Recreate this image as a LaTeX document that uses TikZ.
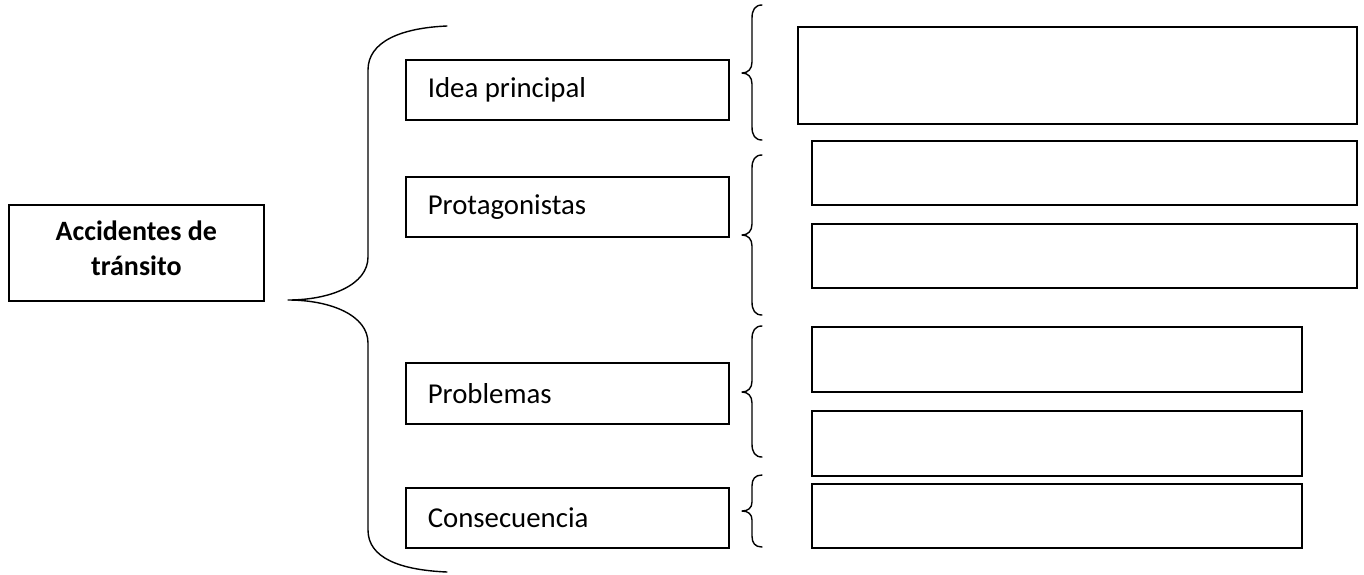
\documentclass[tikz,border=0pt]{standalone}
\usepackage{fontspec}
\setmainfont{Carlito}
\newcommand\lefttext[1]{\makebox[279pt][l]{#1}}
\begin{document}
\begin{tikzpicture}[x=1pt,y=-1pt,
  box/.style={draw=black,line width=1.6pt,rectangle,inner sep=0pt},
  lbl/.style={box,minimum height=60pt,minimum width=323pt,
    font=\fontsize{28.8}{34}\selectfont,anchor=north west},
  rbox/.style={box,anchor=north west},
  brc/.style={draw=black,line width=1.4pt,line cap=round,line join=round}]
\useasboundingbox (0,0) rectangle (1364,574);
\fill[white] (0,0) rectangle (1364,574);
% main box
\node[box,anchor=north west,minimum width=255pt,minimum height=96pt] (main) at (8,204) {};
\node[align=center,inner sep=0pt,font=\bfseries\fontsize{28}{35}\selectfont]
  (maintxt) at ([yshift=5pt]main.center) {Accidentes de\\tránsito};
% left labels
\node[lbl] (idea) at (405,59) {\lefttext{Idea principal}};
\node[lbl] (prot) at (405,176) {\lefttext{Protagonistas}};
\node[lbl,minimum height=61pt] (prob) at (405,362) {\lefttext{Problemas}};
\node[lbl] (cons) at (405,487) {\lefttext{Consecuencia}};
% right boxes
\node[rbox,minimum width=559pt,minimum height=97pt] (r1) at (797,26) {};
\node[rbox,minimum width=545pt,minimum height=64pt] (r2) at (811,140) {};
\node[rbox,minimum width=545pt,minimum height=64pt] (r3) at (811,223) {};
\node[rbox,minimum width=490pt,minimum height=65pt] (r4) at (811,326) {};
\node[rbox,minimum width=490pt,minimum height=65pt] (r5) at (811,410) {};
\node[rbox,minimum width=490pt,minimum height=64pt] (r6) at (811,483) {};
% big brace
\coordinate (tip) at (288,300);
\draw[brc] (447,26) .. controls (400,28) and (368,42) .. (368,70)
  -- (368,257) .. controls (368,285) and (330,300) .. (tip)
  .. controls (330,300) and (368,315) .. (368,343)
  -- (368,530) .. controls (368,558) and (400,570) .. (447,572);
% small braces
\draw[brc] (762,5) .. controls (755,5) and (752,10) .. (752,18) -- (752,62)
  .. controls (752,69) and (748,73) .. (742,73)
  .. controls (748,73) and (752,77) .. (752,84) -- (752,127)
  .. controls (752,135) and (755,140) .. (762,140);
\draw[brc] (762,155) .. controls (755,155) and (752,160) .. (752,168) -- (752,224)
  .. controls (752,231) and (748,235) .. (742,235)
  .. controls (748,235) and (752,239) .. (752,246) -- (752,302)
  .. controls (752,310) and (755,315) .. (762,315);
\draw[brc] (762,326) .. controls (755,326) and (752,331) .. (752,339) -- (752,381)
  .. controls (752,388) and (748,392) .. (742,392)
  .. controls (748,392) and (752,396) .. (752,403) -- (752,444)
  .. controls (752,452) and (755,457) .. (762,457);
\draw[brc] (762,475) .. controls (755,475) and (752,479) .. (752,486) -- (752,502)
  .. controls (752,508) and (748,511) .. (742,511)
  .. controls (748,511) and (752,514) .. (752,520) -- (752,536)
  .. controls (752,543) and (755,547) .. (762,547);
\end{tikzpicture}
\end{document}
